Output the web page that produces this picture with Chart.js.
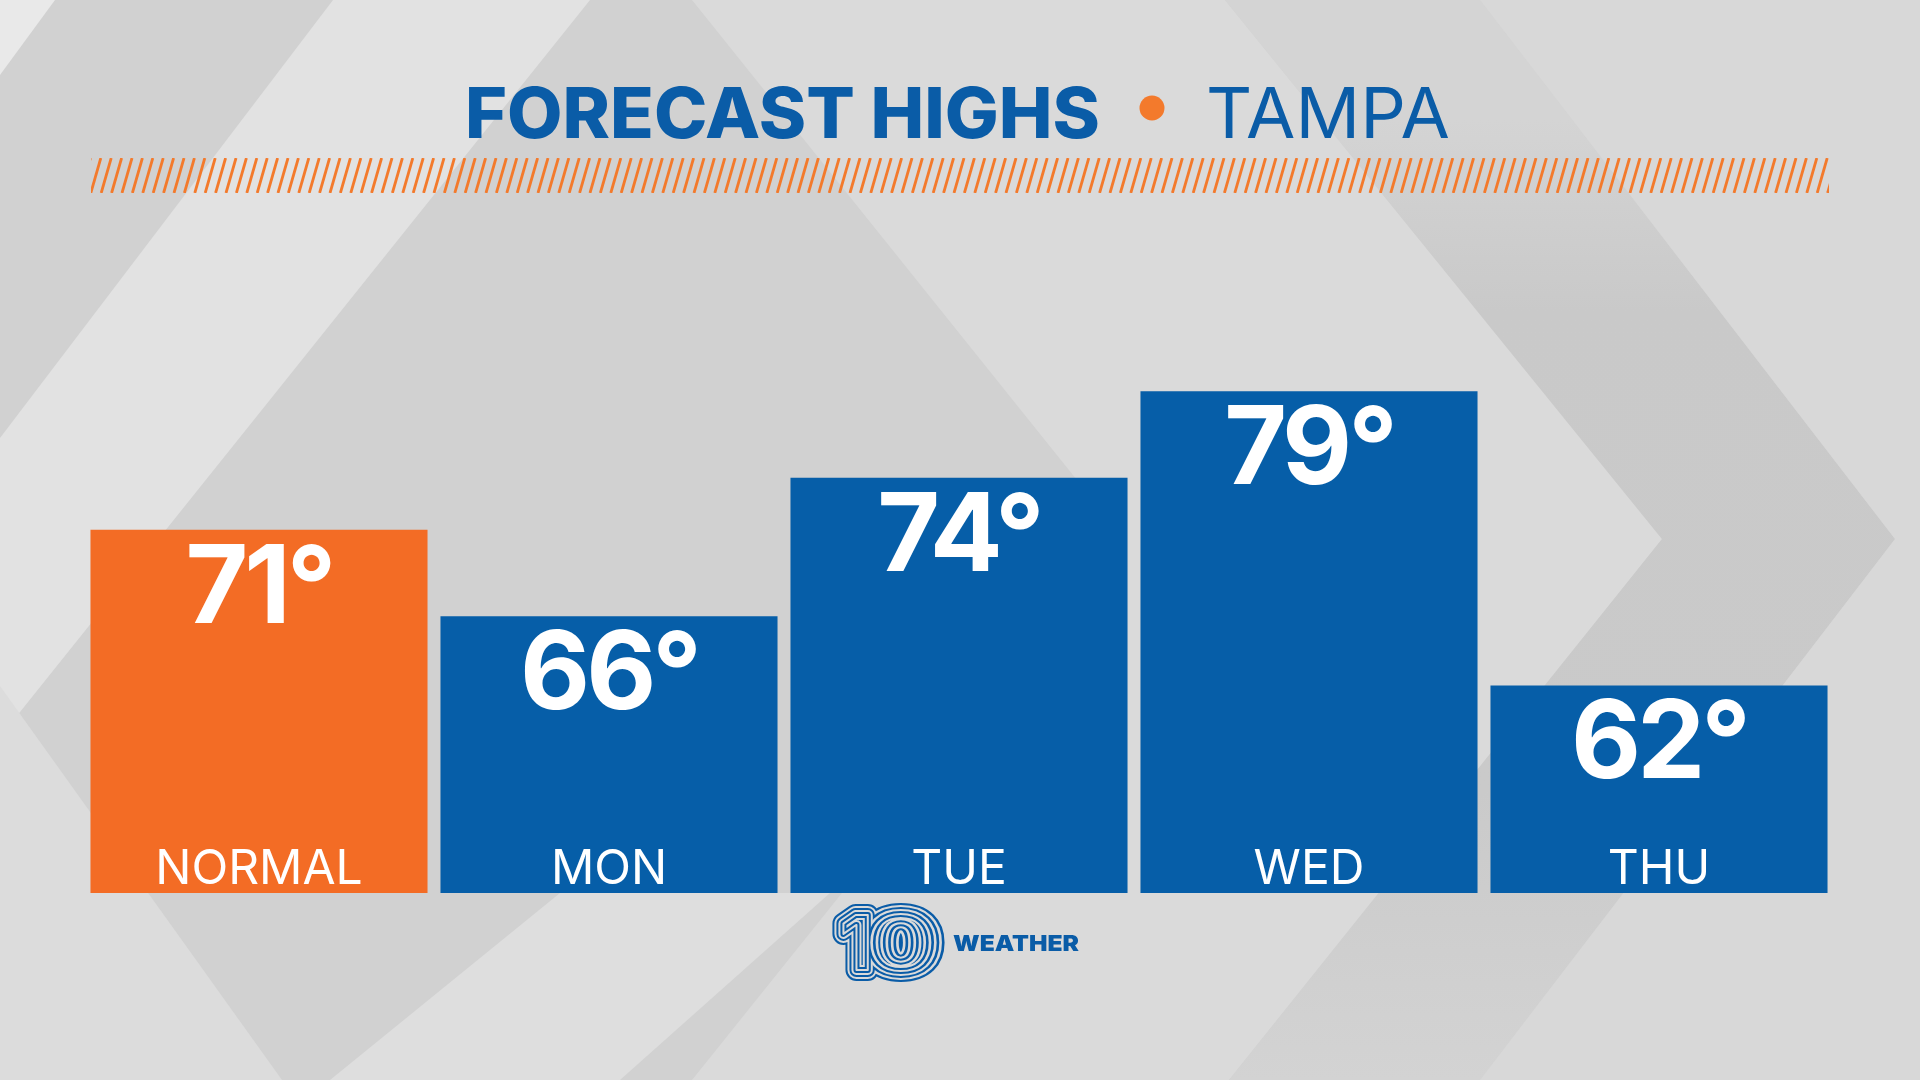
<!DOCTYPE html>
<html>
<head>
<meta charset="utf-8">
<script src="https://cdn.jsdelivr.net/npm/chart.js@4.4.0/dist/chart.umd.min.js"></script>
<style>
  html, body { margin: 0; padding: 0; background: #d3d3d3; overflow: hidden; }
  #chartHighs { display: block; }
</style>
</head>
<body>
<canvas id="chartHighs" width="1920" height="1080"></canvas>
<script>
const dias = ['NORMAL', 'MON', 'TUE', 'WED', 'THU'];
const maximas = [71, 66, 74, 79, 62];
const coresBarras = ['#f36c25', '#065ea8', '#065ea8', '#065ea8', '#065ea8'];
const tituloForte = 'FORECAST HIGHS';
const tituloCidade = 'TAMPA';
const logoNumero = '10';
const logoTexto = 'WEATHER';

const AZUL = '#0a5ca7';
const LARANJA = '#f37a2c';

function poligono(ctx, cor, pts) {
    ctx.fillStyle = cor;
    ctx.beginPath();
    ctx.moveTo(pts[0][0], pts[0][1]);
    for (let i = 1; i < pts.length; i++) ctx.lineTo(pts[i][0], pts[i][1]);
    ctx.closePath();
    ctx.fill();
}

// escreve o texto esticado na horizontal até a largura pedida
function textoLargura(ctx, texto, x, y, largura) {
    const w = ctx.measureText(texto).width;
    ctx.save();
    ctx.translate(x, y);
    ctx.scale(largura / w, 1);
    ctx.textAlign = 'left';
    ctx.fillText(texto, 0, 0);
    ctx.restore();
}

const fundo = {
    id: 'fundo',
    beforeDraw(chart) {
        const ctx = chart.ctx;
        ctx.save();
        ctx.fillStyle = '#d1d1d1';
        ctx.fillRect(0, 0, 1920, 1080);
        // faixa clara do meio (chevron)
        poligono(ctx, '#dadada', [[692, 0], [1225, 0], [1662, 539], [1229, 1080], [692, 1080], [1125, 540]]);
        // faixa escura do chevron da direita
        const g = ctx.createLinearGradient(0, 120, 0, 1080);
        g.addColorStop(0, '#d4d4d4');
        g.addColorStop(0.2, '#c9c9c9');
        g.addColorStop(0.7, '#cacaca');
        g.addColorStop(1, '#d3d3d3');
        poligono(ctx, g, [[1225, 0], [1480, 0], [1895, 539], [1480, 1080], [1229, 1080], [1662, 539]]);
        poligono(ctx, '#d8d8d8', [[1480, 0], [1920, 0], [1920, 1080], [1480, 1080], [1895, 539]]);
        // faixa clara diagonal da esquerda
        poligono(ctx, '#e2e2e2', [[333, 0], [590, 0], [0, 737], [0, 438]]);
        poligono(ctx, '#e9e9e9', [[0, 0], [55, 0], [0, 75]]);
        // cantos de baixo
        poligono(ctx, '#dcdcdc', [[0, 686], [282, 1080], [0, 1080]]);
        poligono(ctx, '#dedede', [[330, 1080], [560, 893], [830, 893], [620, 1080]]);
        ctx.restore();
    }
};

const textos = {
    id: 'textos',
    afterDraw(chart) {
        const ctx = chart.ctx;
        ctx.save();
        ctx.textBaseline = 'alphabetic';

        // titulo
        ctx.fillStyle = AZUL;
        ctx.font = '800 70px Inter';
        textoLargura(ctx, tituloForte, 465, 138, 635);
        ctx.font = '400 70px Inter';
        textoLargura(ctx, tituloCidade, 1206, 138, 244);
        ctx.fillStyle = LARANJA;
        ctx.beginPath();
        ctx.arc(1152, 108, 12.5, 0, Math.PI * 2);
        ctx.fill();

        // faixa hachurada
        ctx.save();
        ctx.beginPath();
        ctx.rect(91, 158, 1738, 35);
        ctx.clip();
        ctx.strokeStyle = LARANJA;
        ctx.lineWidth = 2.8;
        for (let x = 70; x < 1845; x += 10.4) {
            ctx.beginPath();
            ctx.moveTo(x, 193);
            ctx.lineTo(x + 10, 158);
            ctx.stroke();
        }
        ctx.restore();

        // valores e dias dentro das barras
        const meta = chart.getDatasetMeta(0);
        const fundoBarras = chart.chartArea.bottom;
        ctx.fillStyle = '#ffffff';
        ctx.textAlign = 'center';
        meta.data.forEach(function (barra, i) {
            ctx.font = 'bold 108px Inter';
            ctx.letterSpacing = '-4px';
            ctx.fillText(maximas[i] + '°', barra.x, barra.y + 93);
            ctx.letterSpacing = '0px';
            ctx.font = '400 48px Inter';
            ctx.fillText(dias[i], barra.x, fundoBarras - 9);
        });

        // logo: "1" e "0" em linhas paralelas
        const off = document.createElement('canvas');
        off.width = 200; off.height = 120;
        const o = off.getContext('2d');
        o.font = 'bold 76px Inter';
        o.textBaseline = 'alphabetic';
        o.lineJoin = 'round';
        const larguras = [22, 18, 14, 10, 6, 2];
        larguras.forEach(function (lw, k) {
            o.globalCompositeOperation = k % 2 === 0 ? 'source-over' : 'destination-out';
            o.strokeStyle = AZUL;
            o.lineWidth = lw;
            o.strokeText(logoNumero[0], 14, 92);
            o.save();
            o.translate(41, 92);
            o.scale(1.32, 1);
            o.strokeText(logoNumero[1], 0, 0);
            o.restore();
        });
        ctx.drawImage(off, 826, 878);
        ctx.fillStyle = AZUL;
        ctx.font = '900 22px Inter';
        textoLargura(ctx, logoTexto, 953, 951, 126);

        ctx.restore();
    }
};

const ctxHighs = document.getElementById('chartHighs');
const chartHighs = new Chart(ctxHighs, {
    type: 'bar',
    data: {
        labels: dias,
        datasets: [{
            data: maximas,
            backgroundColor: coresBarras,
            borderWidth: 0,
            barPercentage: 0.963,
            categoryPercentage: 1
        }]
    },
    options: {
        responsive: false,
        devicePixelRatio: 1,
        animation: false,
        layout: {
            padding: { left: 84, right: 86, top: 28, bottom: 187 }
        },
        plugins: {
            legend: { display: false },
            tooltip: { enabled: false }
        },
        scales: {
            x: { display: false },
            y: { display: false, min: 50, max: 100 }
        }
    },
    plugins: [fundo, textos]
});
</script>
</body>
</html>
